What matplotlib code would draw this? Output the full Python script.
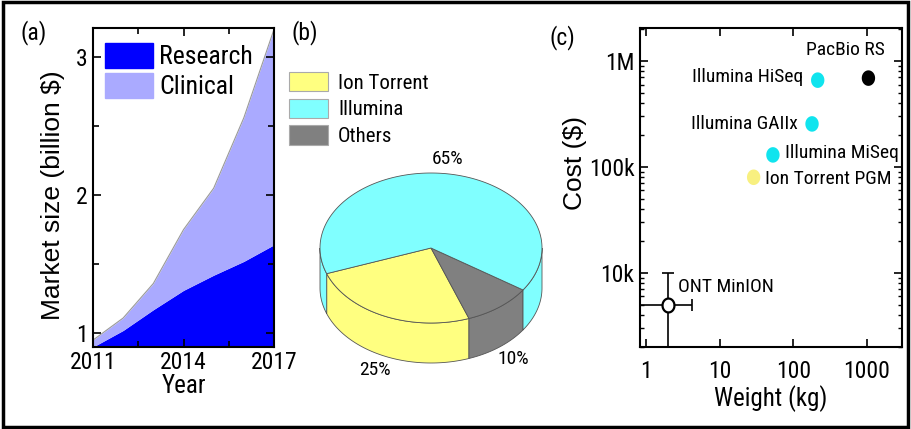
import numpy as np
import matplotlib
matplotlib.use('Agg')
import matplotlib.pyplot as plt
from matplotlib.patches import Patch, Polygon, Rectangle
from matplotlib.path import Path
from matplotlib import font_manager

# the original image is squeezed sideways: horizontal text uses a narrow face,
# the rotated axis labels keep normal Arial-like proportions
installed = {f.name for f in font_manager.fontManager.ttflist}
narrow = next((n for n in ['Liberation Sans Narrow', 'Arial Narrow', 'Roboto Condensed',
                           'Archivo Narrow', 'PT Sans Narrow'] if n in installed), 'Liberation Sans')
plt.rcParams['font.family'] = [narrow, 'DejaVu Sans']
regular = ['Liberation Sans', 'DejaVu Sans']

# (a) market size
years = [2011, 2012, 2013, 2014, 2015, 2016, 2017]
research = [0.90, 1.02, 1.17, 1.31, 1.42, 1.52, 1.64]
clinical = [0.05, 0.09, 0.19, 0.44, 0.63, 1.04, 1.56]

# (b) market share
share_labels = ['Ion Torrent', 'Illumina', 'Others']
share_pct = [25, 65, 10]
share_colors = ['#ffff80', '#80ffff', '#808080']

# (c) cost vs weight
instruments = ['PacBio RS', 'Illumina HiSeq', 'Illumina GAIIx', 'Illumina MiSeq', 'Ion Torrent PGM']
weight_kg = [1050, 215, 180, 53, 29]
cost_usd = [690e3, 660e3, 255e3, 130e3, 80e3]
inst_colors = ['black', '#10e4ee', '#10e4ee', '#10e4ee', '#f8f080']
ont_weight, ont_cost = 2.0, 5000
ont_weight_range = (0.5, 4.2)
ont_cost_range = (1000, 10000)

W, H = 912, 429
fig = plt.figure(figsize=(W / 100, H / 100), dpi=100)

def px_axes(x0, y0, x1, y1):
    return fig.add_axes([x0 / W, 1 - y1 / H, (x1 - x0) / W, (y1 - y0) / H])

tick_kw = dict(direction='in', top=True, right=True, labelsize=17)

# slightly narrow ellipse marker, like the squeezed original
tt = np.linspace(0, 2 * np.pi, 60)
oval = Path(np.column_stack([0.86 * np.cos(tt), np.sin(tt)]))

# ---- panel (a)
ax = px_axes(93, 28, 274, 347)
yrs = np.array(years)
res = np.array(research)
tot = res + np.array(clinical)
ax.fill_between(yrs, 0, res, color='#0000ff', lw=0)
ax.fill_between(yrs, res, tot, color='#aaaaff', lw=0)
ax.plot(yrs, tot, color='#999999', lw=0.8)
ax.set_xlim(2011, 2017)
ax.set_ylim(0.9, 3.21)
ax.set_xticks([2011, 2014, 2017])
ax.set_xticks([2012.5, 2015.5], minor=True)
ax.set_yticks([1, 2, 3])
ax.set_yticks([1.5, 2.5], minor=True)
ax.tick_params(which='both', **tick_kw)
ax.tick_params(which='major', length=6, width=1.2)
ax.tick_params(which='minor', length=4, width=1.2)
ax.tick_params(axis='x', pad=3)
ax.tick_params(axis='y', pad=4)
for s in ax.spines.values():
    s.set_linewidth(1.5)
ax.set_xlabel('Year', fontsize=18)
ax.set_ylabel('Market size (billion $)', fontsize=19, family=regular)
ax.xaxis.set_label_coords(0.5, -0.085)
ax.yaxis.set_label_coords(-0.155, 0.475)
ax.legend(handles=[Patch(color='#0000ff', label='Research'),
                   Patch(color='#aaaaff', label='Clinical')],
          loc='upper left', bbox_to_anchor=(105 / W, 1 - 43 / H), bbox_transform=fig.transFigure,
          frameon=False, fontsize=18.5, borderpad=0, borderaxespad=0,
          handlelength=1.85, handleheight=1.12, handletextpad=0.25, labelspacing=0.14)

# ---- panel (c)
ax = px_axes(640, 28, 902, 347)
ax.set_xscale('log')
ax.set_yscale('log')
ax.scatter(weight_kg, cost_usd, s=125, c=inst_colors, marker=oval, edgecolors='none', zorder=3)
ax.errorbar([ont_weight], [ont_cost],
            xerr=[[ont_weight - ont_weight_range[0]], [ont_weight_range[1] - ont_weight]],
            yerr=[[ont_cost - ont_cost_range[0]], [ont_cost_range[1] - ont_cost]],
            fmt='none', ecolor='black', elinewidth=1.2, capsize=4, capthick=1.2, zorder=4)
ax.plot([ont_weight], [ont_cost], marker=oval, ms=10, mfc='white', mec='black', mew=1.6,
        ls='none', zorder=5)
ax.set_xlim(0.83, 3000)
ax.set_ylim(2000, 2.05e6)
ax.set_xticks([1, 10, 100, 1000], ['1', '10', '100', '1000'])
ax.set_yticks([1e4, 1e5, 1e6], ['10k', '100k', '1M'])
ax.tick_params(which='both', **tick_kw)
ax.tick_params(which='major', length=6, width=1.2)
ax.tick_params(which='minor', length=3, width=1.0)
ax.tick_params(axis='x', pad=9)
ax.tick_params(axis='y', pad=4)
for s in ax.spines.values():
    s.set_linewidth(1.5)
ax.set_xlabel('Weight (kg)', fontsize=18)
ax.set_ylabel('Cost ($)', fontsize=19, family=regular)
ax.xaxis.set_label_coords(0.5, -0.12)
ax.yaxis.set_label_coords(-0.202, 0.578)

lab_off = {'PacBio RS': (-62, 28, 'left'), 'Illumina HiSeq': (-14, 3, 'right'),
           'Illumina GAIIx': (-14, 0, 'right'), 'Illumina MiSeq': (12, 2, 'left'),
           'Ion Torrent PGM': (11, -2, 'left')}
for name, x, y in zip(instruments, weight_kg, cost_usd):
    dx, dy, ha = lab_off[name]
    ax.annotate(name, (x, y), xytext=(dx * 0.72, dy * 0.72), textcoords='offset points',
                ha=ha, va='center', fontsize=14)
ax.annotate('ONT MinION', (ont_weight, ont_cost), xytext=(7, 13), textcoords='offset points',
            ha='left', va='center', fontsize=14)

# ---- panel (b) : pseudo-3D pie drawn in pixel coordinates
ov = fig.add_axes([0, 0, 1, 1], zorder=-1)
ov.set_xlim(0, W)
ov.set_ylim(H, 0)
ov.axis('off')
cx, cy, rx, ry, depth = 431, 248, 111, 75, 40
start = 200.0
order = [0, 2, 1]  # Ion Torrent, Others, Illumina counter-clockwise
angles = []
a = start
for i in order:
    span = share_pct[i] / sum(share_pct) * 360
    angles.append((i, a, a + span))
    a += span

def ell(t, dz=0):
    t = np.radians(t)
    return np.column_stack([cx + rx * np.cos(t), cy - ry * np.sin(t) + dz])

# side walls (front half only)
for i, a0, a1 in angles:
    for k in range(-1, 3):
        lo = max(a0, 180 + 360 * k)
        hi = min(a1, 360 + 360 * k)
        if hi <= lo:
            continue
        t = np.linspace(lo, hi, 80)
        pts = np.vstack([ell(t), ell(t[::-1], depth)])
        ov.add_patch(Polygon(pts, closed=True, fc=share_colors[i], ec='#555555', lw=0.6))
# top face
for i, a0, a1 in angles:
    t = np.linspace(a0, a1, 200)
    pts = np.vstack([[cx, cy], ell(t)])
    ov.add_patch(Polygon(pts, closed=True, fc=share_colors[i], ec='#555555', lw=0.6))
# percent labels
for i, a0, a1 in angles:
    m = np.radians((a0 + a1) / 2)
    lx = cx + 1.2 * rx * np.cos(m)
    ly = cy - 1.2 * ry * np.sin(m) + (depth if np.sin(m) < 0 else 0)
    ov.text(lx, ly, f'{share_pct[i]}%', ha='center', va='center', fontsize=14)

ov.legend(handles=[Patch(fc=c, ec='#aaaaaa', lw=0.8, label=l) for c, l in zip(share_colors, share_labels)],
          loc='upper left', bbox_to_anchor=(289 / W, 1 - 72 / H), bbox_transform=fig.transFigure,
          frameon=False, fontsize=15, borderpad=0, borderaxespad=0,
          handlelength=1.85, handleheight=1.05, handletextpad=0.5, labelspacing=0.28)

# panel letters
for txt, x, y in [('(a)', 34, 33), ('(b)', 305, 33), ('(c)', 562, 38)]:
    fig.text(x / W, 1 - y / H, txt, ha='center', va='center', fontsize=17)

fig.patches.append(Rectangle((0.003, 0.005), 0.993, 0.99, transform=fig.transFigure,
                             fill=False, ec='black', lw=2.5))

fig.savefig('out.png', dpi=100)
